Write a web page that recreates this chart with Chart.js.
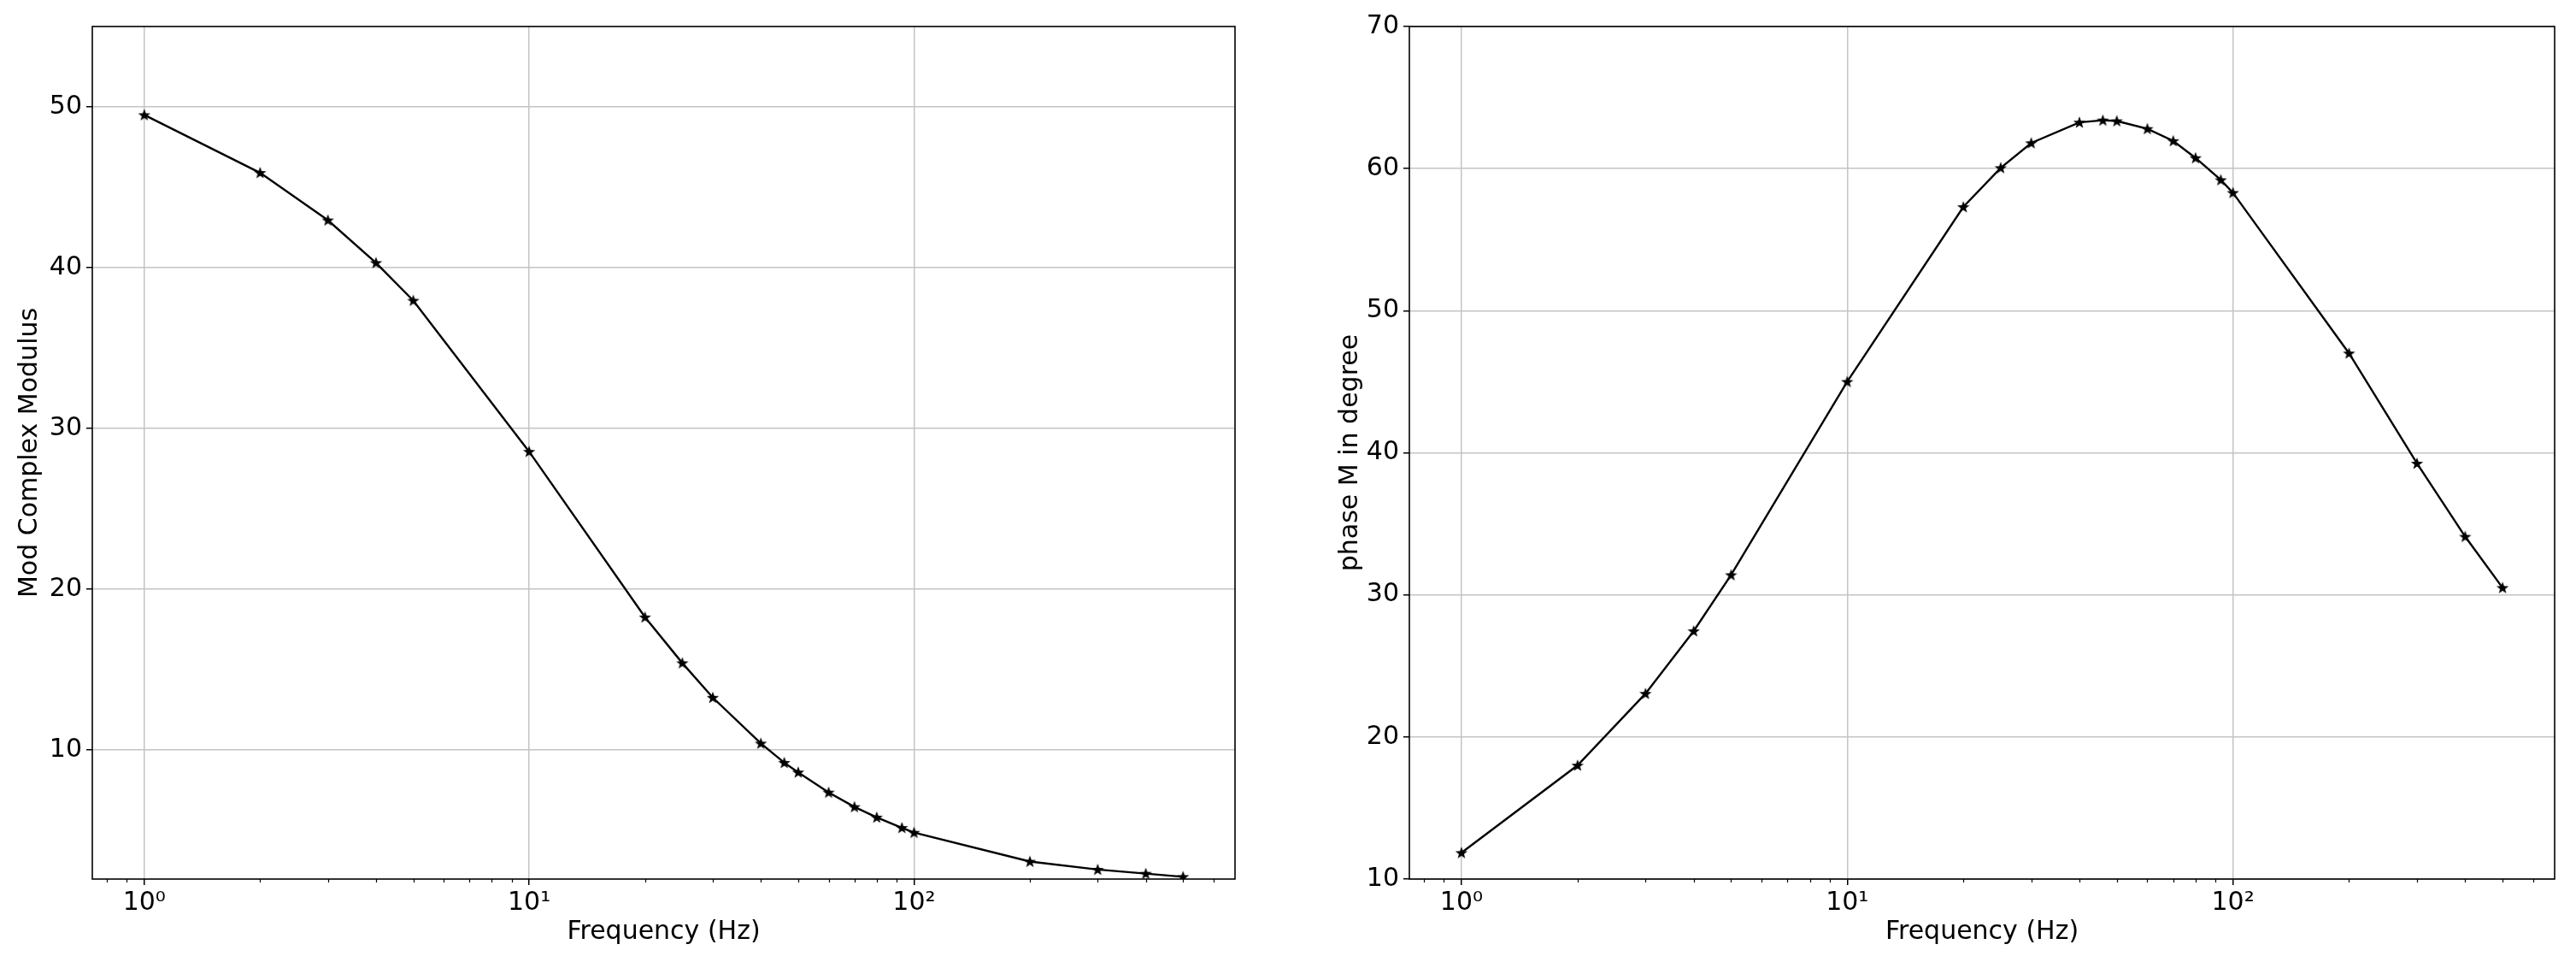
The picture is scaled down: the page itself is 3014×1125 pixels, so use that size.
<!DOCTYPE html>
<html>
<head>
<meta charset="utf-8">
<script src="https://cdn.jsdelivr.net/npm/chart.js@4.4.0/dist/chart.umd.min.js"></script>
<style>
  html, body { margin: 0; padding: 0; background: #fff; }
  #wrap { position: relative; width: 3014px; height: 1125px; }
  canvas { position: absolute; top: 0; }
  #modChart { left: 0; }
  #phaseChart { left: 1507px; }
</style>
</head>
<body>
<div id="wrap">
  <canvas id="modChart" width="1507" height="1125"></canvas>
  <canvas id="phaseChart" width="1507" height="1125"></canvas>
</div>
<script>
// Frequencies (Hz) and the two measured series
const freqs = [1, 2, 3, 4, 5, 10, 20, 25, 30, 40, 46, 50, 60, 70, 80, 93, 100, 200, 300, 400, 500];
const modulus = [49.5, 45.9, 42.95, 40.3, 37.95, 28.55, 18.25, 15.4, 13.25, 10.4, 9.2, 8.6, 7.35, 6.45, 5.8, 5.15, 4.85, 3.05, 2.55, 2.3, 2.1];
const phase = [11.85, 18.0, 23.05, 27.45, 31.4, 45.0, 57.3, 60.05, 61.8, 63.25, 63.4, 63.35, 62.8, 61.95, 60.75, 59.2, 58.3, 47.0, 39.25, 34.1, 30.5];

// Ticks
const freqMajor = [1, 10, 100];
const freqLabels = ['10\u2070', '10\u00b9', '10\u00b2'];
const freqMinor = [0.8, 0.9, 2, 3, 4, 5, 6, 7, 8, 9, 20, 30, 40, 50, 60, 70, 80, 90, 200, 300, 400, 500, 600];
const modTicks = [10, 20, 30, 40, 50];
const phaseTicks = [10, 20, 30, 40, 50, 60, 70];

const gridColor = '#c4c4c4';
Chart.defaults.font.family = "'DejaVu Sans', sans-serif";
Chart.defaults.font.size = 30;
Chart.defaults.color = '#000';

// filled five point star marker, like matplotlib '*'
function starMarker() {
    const c = document.createElement('canvas');
    c.width = 16; c.height = 16;
    const g = c.getContext('2d');
    g.fillStyle = '#000';
    g.beginPath();
    for (let i = 0; i < 10; i++) {
        const r = i % 2 === 0 ? 7.5 : 3.1;
        const a = -Math.PI / 2 + i * Math.PI / 5;
        const px = 8 + r * Math.cos(a), py = 8.5 + r * Math.sin(a);
        if (i === 0) g.moveTo(px, py); else g.lineTo(px, py);
    }
    g.closePath();
    g.fill();
    return c;
}
const star = starMarker();

// frame + short minor ticks on the log axis
const framePlugin = {
    id: 'frame',
    afterDraw(chart) {
        const { ctx, chartArea: a } = chart;
        const xs = chart.scales.x;
        ctx.save();
        ctx.strokeStyle = '#000';
        ctx.lineWidth = 1.2;
        xs.ticks.forEach(t => {
            if (freqMajor.includes(t.value)) return;
            const px = Math.round(xs.getPixelForValue(t.value)) + 0.5;
            ctx.beginPath();
            ctx.moveTo(px, a.bottom);
            ctx.lineTo(px, a.bottom + 4);
            ctx.stroke();
        });
        ctx.lineWidth = 1.6;
        ctx.strokeRect(a.left, a.top, a.right - a.left, a.bottom - a.top);
        ctx.restore();
    }
};

function makeChart(canvasId, values, yTitle, yMin, yMax, yTicks, yWidth, yTitlePad, padRight) {
    const logMin = Math.log10(freqs[0]), logMax = Math.log10(freqs[freqs.length - 1]);
    const pad = (logMax - logMin) * 0.05;
    const xMin = Math.pow(10, logMin - pad), xMax = Math.pow(10, logMax + pad);
    return new Chart(document.getElementById(canvasId), {
        type: 'line',
        data: {
            datasets: [{
                data: freqs.map((f, i) => ({ x: f, y: values[i] })),
                borderColor: '#000',
                borderWidth: 2.4,
                pointStyle: star,
                pointRadius: 7,
                tension: 0
            }]
        },
        options: {
            responsive: false,
            animation: false,
            devicePixelRatio: 1,
            layout: { padding: { left: 0, top: 31, right: padRight, bottom: 0 } },
            plugins: { legend: { display: false }, tooltip: { enabled: false } },
            scales: {
                x: {
                    type: 'logarithmic',
                    bounds: 'data',
                    min: xMin,
                    max: xMax,
                    afterBuildTicks: s => {
                        s.ticks = freqMinor.concat(freqMajor).sort((p, q) => p - q).map(v => ({ value: v }));
                        s.min = xMin;
                        s.max = xMax;
                    },
                    afterFit: s => { s.height = 97; },
                    border: { display: false },
                    grid: {
                        color: c => freqMajor.includes(c.tick.value) ? gridColor : 'rgba(0,0,0,0)',
                        tickColor: c => freqMajor.includes(c.tick.value) ? '#000' : 'rgba(0,0,0,0)',
                        lineWidth: 1.5,
                        tickLength: 7
                    },
                    ticks: {
                        autoSkip: false,
                        maxRotation: 0,
                        padding: 3,
                        callback: v => {
                            const i = freqMajor.indexOf(v);
                            return i >= 0 ? freqLabels[i] : '';
                        }
                    },
                    title: { display: true, text: 'Frequency (Hz)', padding: { top: 0, bottom: 17 } }
                },
                y: {
                    bounds: 'data',
                    min: yMin,
                    max: yMax,
                    afterBuildTicks: s => {
                        s.ticks = yTicks.map(v => ({ value: v }));
                        s.min = yMin;
                        s.max = yMax;
                    },
                    afterFit: s => { s.width = yWidth; },
                    border: { display: false },
                    grid: { color: gridColor, tickColor: '#000', lineWidth: 1.5, tickLength: 7 },
                    ticks: { padding: 5 },
                    title: { display: true, text: yTitle, padding: { top: yTitlePad, bottom: 0 } }
                }
            }
        },
        plugins: [framePlugin]
    });
}

makeChart('modChart', modulus, 'Mod Complex Modulus', 1.96, 55, modTicks, 108, 17, 62);
makeChart('phaseChart', phase, 'phase M in degree', 10, 70, phaseTicks, 142, 55, 25);
</script>
</body>
</html>
